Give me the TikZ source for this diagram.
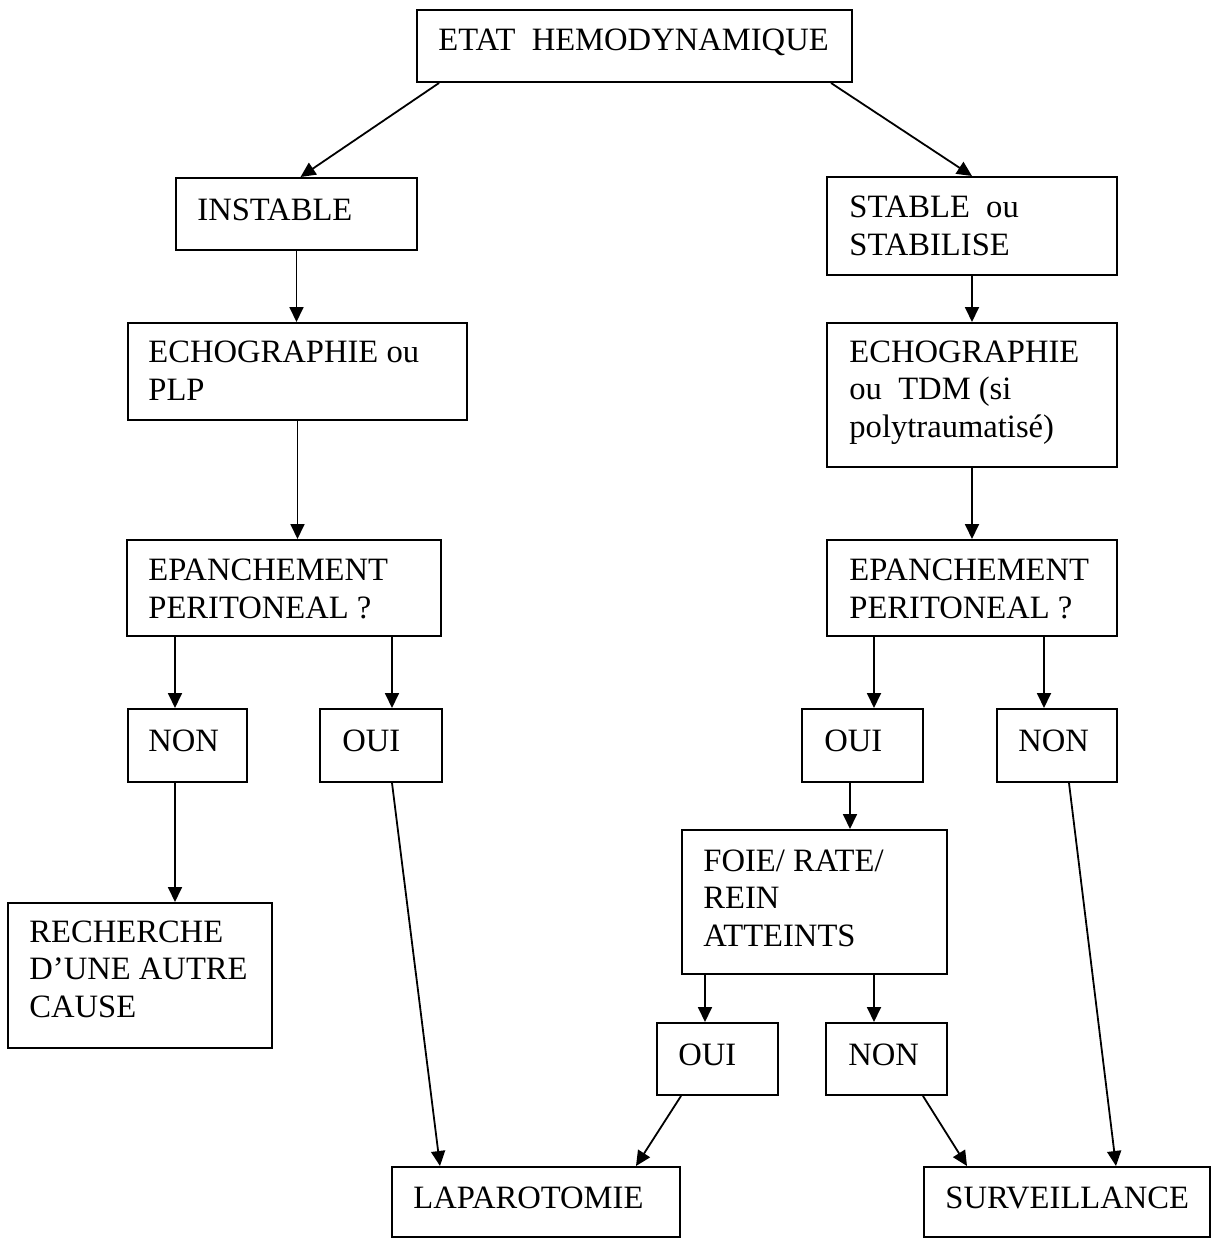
\documentclass[tikz,border=0pt]{standalone}
\usepackage{fontspec}
\setmainfont{Liberation Serif}
\usetikzlibrary{fit,arrows.meta}
\begin{document}
\begin{tikzpicture}[x=0.5pt,y=-0.5pt,
  box/.style={draw, line width=1pt, inner sep=0pt, rectangle},
  txt/.style={anchor=base west, align=left, inner sep=0pt, font=\fontsize{16.3}{18.6}\selectfont},
  arr/.style={line width=0.9pt, -{Triangle[length=7.5pt,width=7pt]}}]
\useasboundingbox (0,0) rectangle (1214,1239);
% boxes
\node[box, fit={(417,10)(852,82)}] (etat) {};
\node[box, fit={(176,178)(417,250)}] (inst) {};
\node[box, fit={(827,177)(1117,275)}] (stab) {};
\node[box, fit={(128,323)(467,420)}] (echoL) {};
\node[box, fit={(827,323)(1117,467)}] (echoR) {};
\node[box, fit={(127,540)(441,636)}] (epL) {};
\node[box, fit={(827,540)(1117,636)}] (epR) {};
\node[box, fit={(128,709)(247,782)}] (nonL) {};
\node[box, fit={(320,709)(442,782)}] (ouiL) {};
\node[box, fit={(802,709)(923,782)}] (ouiR) {};
\node[box, fit={(997,709)(1117,782)}] (nonR) {};
\node[box, fit={(8,903)(272,1048)}] (rech) {};
\node[box, fit={(682,830)(947,974)}] (foie) {};
\node[box, fit={(657,1023)(778,1095)}] (ouiB) {};
\node[box, fit={(826,1023)(947,1095)}] (nonB) {};
\node[box, fit={(392,1167)(680,1237)}] (lap) {};
\node[box, fit={(924,1167)(1210,1237)}] (surv) {};
% texts (anchor = baseline of the last line)
\node[txt] (tetat) at (438,50) {ETAT\ \ HEMODYNAMIQUE};
\node[txt] (tinst) at (197,220) {INSTABLE};
\node[txt] (tstab) at (849,255) {STABLE\ \ ou\\STABILISE};
\node[txt] (techoL) at (148,400) {ECHOGRAPHIE ou\\PLP};
\node[txt] (techoR) at (849,437) {ECHOGRAPHIE\\ou\ \ TDM (si\\polytraumatisé)};
\node[txt] (tepL) at (148,618) {EPANCHEMENT\\PERITONEAL ?};
\node[txt] (tepR) at (849,618) {EPANCHEMENT\\PERITONEAL ?};
\node[txt] (tnonL) at (148,751) {NON};
\node[txt] (touiL) at (342,751) {OUI};
\node[txt] (touiR) at (824,751) {OUI};
\node[txt] (tnonR) at (1018,751) {NON};
\node[txt] (trech) at (29,1017) {RECHERCHE\\D’UNE AUTRE\\CAUSE};
\node[txt] (tfoie) at (703,946) {FOIE/ RATE/\\REIN\\ATTEINTS};
\node[txt] (touiB) at (678,1065) {OUI};
\node[txt] (tnonB) at (848,1065) {NON};
\node[txt] (tlap) at (413,1208) {LAPAROTOMIE};
\node[txt] (tsurv) at (945,1208) {SURVEILLANCE};
% connectors
\draw[arr] ([xshift=11.5pt]etat.south west) -- ([xshift=2pt]inst.north);
\draw[arr] ([xshift=-11pt]etat.south east) -- (stab.north);
\draw[arr] (inst.south) -- (inst.south |- echoL.north);
\draw[arr] (stab.south) -- (echoR.north);
\draw[arr] (echoL.south) -- (echoL.south |- epL.north);
\draw[arr] (echoR.south) -- (epR.north);
\draw[arr] ([xshift=24.5pt]epL.south west) -- ([xshift=24pt]nonL.north west);
\draw[arr] ([xshift=133pt]epL.south west) -- ([xshift=36.5pt]ouiL.north west);
\draw[arr] ([xshift=24pt]epR.south west) -- ([xshift=36.5pt]ouiR.north west);
\draw[arr] ([xshift=109pt]epR.south west) -- ([xshift=24pt]nonR.north west);
\draw[arr] ([xshift=24pt]nonL.south west) -- ([xshift=84pt]rech.north west);
\draw[arr] ([xshift=36.5pt]ouiL.south west) -- ([xshift=24.5pt]lap.north west);
\draw[arr] ([xshift=24.5pt]ouiR.south west) -- ([xshift=84.5pt]foie.north west);
\draw[arr] ([xshift=36.5pt]nonR.south west) -- ([xshift=96.5pt]surv.north west);
\draw[arr] ([xshift=12pt]foie.south west) -- ([xshift=24.5pt]ouiB.north west);
\draw[arr] ([xshift=96.5pt]foie.south west) -- ([xshift=24.5pt]nonB.north west);
\draw[arr] ([xshift=12.5pt]ouiB.south west) -- ([xshift=122.5pt]lap.north west);
\draw[arr] ([xshift=49pt]nonB.south west) -- ([xshift=22pt]surv.north west);
\end{tikzpicture}
\end{document}
